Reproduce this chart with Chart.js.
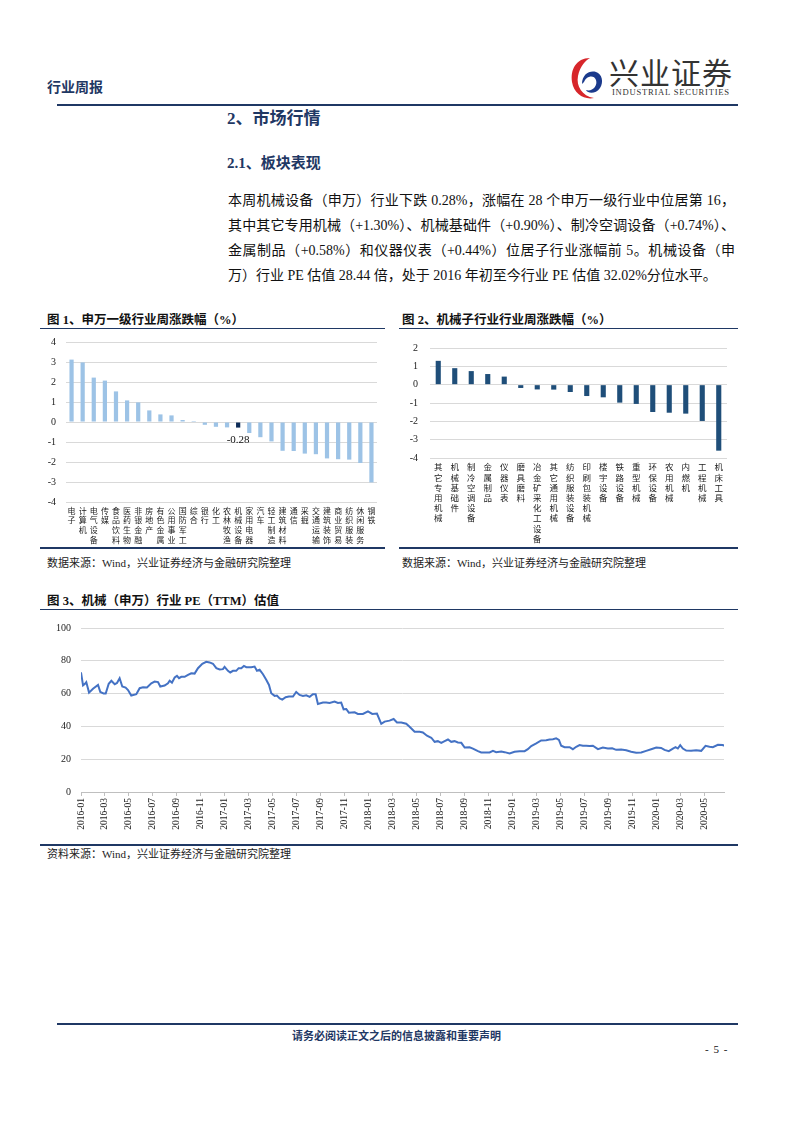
<!DOCTYPE html>
<html>
<head>
<meta charset="utf-8">
<script src="https://cdn.jsdelivr.net/npm/chart.js@4"></script>
<style>
  html,body{margin:0;padding:0;background:#fff;}
  body{width:793px;height:1122px;position:relative;overflow:hidden;font-family:"Liberation Serif","Noto Sans CJK SC",serif;}
  .abs{position:absolute;white-space:nowrap;}
  .navy{color:#1f3864;}
  .hline{position:absolute;background:#1f3864;}
  canvas{position:absolute;}
  .para{position:absolute;left:228px;width:507px;font-size:14px;color:#111;}
  .para div{height:25px;line-height:25px;text-align:justify;text-align-last:justify;white-space:nowrap;}
  .para div.last{text-align-last:left;}
</style>
</head>
<body>
<!-- header -->
<div class="abs navy" style="left:47px;top:76px;font-size:14px;font-weight:bold;font-family:'Noto Sans CJK SC';">行业周报</div>
<svg class="abs" style="left:568px;top:54px;" width="40" height="48" viewBox="0 0 40 48">
  <path d="M22 4 C8 4 2 16 4 28 C6 40 16 46 26 44 C14 42 8 32 10 22 C12 12 18 6 22 4 Z" fill="#d7262b"/>
  <path d="M14 30 C14 20 22 16 28 18 C34 20 36 28 32 34 C28 40 20 40 18 36 C24 38 30 32 28 26 C26 20 18 22 16 28 Z" fill="#1b3a8c"/>
</svg>
<div class="abs" style="left:609px;top:54px;font-size:30px;color:#333;letter-spacing:1px;font-family:'Noto Sans CJK SC';line-height:34px;">兴业证券</div>
<div class="abs" style="left:612px;top:87px;font-size:8.6px;color:#333;font-family:'Liberation Serif';letter-spacing:0.75px;">INDUSTRIAL SECURITIES</div>
<div class="hline" style="left:57px;top:104px;width:681px;height:1.5px;"></div>

<div class="abs navy" style="left:227px;top:104px;font-size:17px;font-weight:bold;">2、市场行情</div>
<div class="abs navy" style="left:227px;top:151px;font-size:15px;font-weight:bold;">2.1、板块表现</div>

<div class="para" style="top:188px;">
  <div>本周机械设备（申万）行业下跌 0.28%，涨幅在 28 个申万一级行业中位居第 16，</div>
  <div>其中其它专用机械（+1.30%）、机械基础件（+0.90%）、制冷空调设备（+0.74%）、</div>
  <div>金属制品（+0.58%）和仪器仪表（+0.44%）位居子行业涨幅前 5。机械设备（申</div>
  <div class="last">万）行业 PE 估值 28.44 倍，处于 2016 年初至今行业 PE 估值 32.02%分位水平。</div>
</div>

<!-- chart 1/2 titles -->
<div class="abs" style="left:47px;top:309px;font-size:12.5px;font-weight:bold;color:#111;">图 1、申万一级行业周涨跌幅（%）</div>
<div class="abs" style="left:402px;top:309px;font-size:12.5px;font-weight:bold;color:#111;">图 2、机械子行业行业周涨跌幅（%）</div>
<div class="hline" style="left:40px;top:328px;width:345px;height:1px;"></div>
<div class="hline" style="left:399px;top:328px;width:339px;height:1px;"></div>

<canvas id="c1" style="left:40px;top:326px;width:343px;height:222px;" width="343" height="222"></canvas>
<canvas id="c2" style="left:390px;top:330px;width:345px;height:218px;" width="345" height="218"></canvas>

<div class="hline" style="left:40px;top:547px;width:345px;height:2px;"></div>
<div class="hline" style="left:399px;top:547px;width:339px;height:2px;"></div>
<div class="abs" style="left:47px;top:554px;font-size:11px;color:#222;">数据来源：Wind，兴业证券经济与金融研究院整理</div>
<div class="abs" style="left:402px;top:554px;font-size:11px;color:#222;">数据来源：Wind，兴业证券经济与金融研究院整理</div>

<!-- chart 3 -->
<div class="abs" style="left:47px;top:590px;font-size:12.5px;font-weight:bold;color:#111;">图 3、机械（申万）行业 PE（TTM）估值</div>
<div class="hline" style="left:40px;top:609px;width:698px;height:1px;"></div>
<canvas id="c3" style="left:40px;top:612px;width:696px;height:232px;" width="696" height="232"></canvas>
<div class="hline" style="left:40px;top:844px;width:698px;height:2px;"></div>
<div class="abs" style="left:47px;top:845px;font-size:11px;color:#222;">资料来源：Wind，兴业证券经济与金融研究院整理</div>

<!-- footer -->
<div class="hline" style="left:57px;top:1023px;width:681px;height:1.5px;"></div>
<div class="abs" style="left:0;width:793px;text-align:center;top:1027px;font-size:11px;font-weight:bold;color:#1f3864;">请务必阅读正文之后的信息披露和重要声明</div>
<div class="abs" style="left:705px;top:1043px;font-size:11px;color:#111;letter-spacing:1px;">- 5 -</div>

<script>
// ---------- data ----------
const industryNames = ['电子','计算机','电气设备','传媒','食品饮料','医药生物','非银金融','房地产','有色金属','公用事业','国防军工','综合','银行','化工','农林牧渔','机械设备','家用电器','汽车','轻工制造','建筑材料','通信','采掘','交通运输','建筑装饰','商业贸易','纺织服装','休闲服务','钢铁'];
const industryChange = [3.12,2.98,2.22,2.07,1.53,1.08,0.98,0.58,0.38,0.33,0.10,0.05,-0.14,-0.24,-0.27,-0.28,-0.55,-0.76,-0.97,-1.44,-1.45,-1.58,-1.61,-1.82,-1.86,-1.88,-2.05,-3.02];
const highlightIndustry = '机械设备';

const subNames = ['其它专用机械','机械基础件','制冷空调设备','金属制品','仪器仪表','磨具磨料','冶金矿采化工设备','其它通用机械','纺织服装设备','印刷包装机械','楼宇设备','铁路设备','重型机械','环保设备','农用机械','内燃机','工程机械','机床工具'];
const subChange = [1.30,0.90,0.74,0.58,0.44,-0.18,-0.26,-0.27,-0.40,-0.62,-0.69,-0.98,-1.05,-1.49,-1.53,-1.58,-1.98,-3.60];

// months since 2016-01 (read from the x position of each point)
const peMonthOffsets = [0,0.17,0.33,0.44,0.67,1.0,1.42,1.61,1.89,2.06,2.31,2.53,2.81,3.0,3.22,3.44,3.72,3.92,4.19,4.61,4.89,5.17,5.5,5.86,6.14,6.42,6.61,6.97,7.25,7.39,7.58,7.81,8.0,8.17,8.36,8.64,8.92,9.19,9.47,9.75,10.11,10.44,10.72,11.0,11.28,11.56,11.83,11.97,12.25,12.44,12.67,12.94,13.14,13.36,13.58,13.78,14.19,14.47,14.67,14.89,15.17,15.44,15.67,15.86,16.14,16.33,16.56,16.78,17.06,17.33,17.67,17.94,18.22,18.5,18.78,19.06,19.33,19.56,19.75,20.17,20.44,20.72,21.14,21.42,21.69,21.89,22.11,22.33,22.81,23.08,23.5,23.92,24.28,24.67,25.03,25.31,25.72,26.06,26.34,26.7,27.11,27.39,27.81,28.23,28.5,28.84,29.2,29.48,29.75,30.03,30.31,30.59,30.86,31.14,31.42,31.7,31.98,32.39,32.67,33.09,33.36,33.78,34.06,34.34,34.61,35.03,35.31,35.73,36.14,36.56,36.98,37.25,37.53,37.95,38.36,38.78,39.06,39.34,39.61,39.84,40.03,40.31,40.73,41.0,41.28,41.56,41.84,42.11,42.39,42.67,43.09,43.5,43.92,44.28,44.61,45.03,45.45,45.86,46.28,46.7,47.11,47.53,47.95,48.36,48.64,49.0,49.34,49.56,49.75,49.95,50.17,50.45,50.86,51.28,51.7,52.06,52.39,52.67,53.09,53.5,53.6];
const peValues = [73,65,66,67,60.6,63,65.3,61,60,60,66,67.8,65.7,66.5,69.4,64.3,63.7,62.2,58.8,59.6,63.3,63.9,63.7,66.3,67.3,67,64.3,64.9,66.3,67.8,66.7,69.8,70.8,69.4,70.2,70.2,71.4,72.4,72.2,75.5,78.2,79.4,79,78.2,75.5,74.7,74.9,76.3,73.9,72.9,73.9,73.9,75.5,75.5,76.9,76.1,76.1,76.5,73.9,74.5,71.8,68.4,65.3,60.2,58.6,58.8,57.1,56.3,57.8,58.2,58.2,61,59.2,58.6,59,58,59.6,59.6,53.7,54.5,54.5,54.3,55.1,54.3,54.5,50.4,50.6,48.4,48.6,47.6,47.6,49.2,47.6,47.8,41.6,42.9,43.5,44.5,42.4,42.4,41.6,39.8,36.7,36.7,36.3,34.3,33.1,30.6,31,30,31,32,30.6,31,30.2,30,27.1,27.3,26.5,24.9,24.1,24.1,24.1,25.1,24.3,24.7,24.3,23.5,24.5,24.9,24.9,26.1,28,29.6,31.4,31.6,32,32.2,32.7,31.8,28.2,27.3,27.3,26.1,27.6,28.6,28.2,28.2,28,28.2,26.1,27.1,26.5,26.7,25.7,25.9,25.5,24.5,23.9,24.1,25.1,26.1,27.1,26.9,25.7,24.9,26.5,27.3,26.5,28.6,26.5,25.3,25.1,25.5,25.1,28.2,27.6,27.3,28.8,28.6,28.2];

const peYTicks = {min:0, max:100, step:20};
const peAxisEnd = 53.6; // months shown on the axis (2016-01 .. mid 2020-06)

// ---------- common ----------
const serif = "'Liberation Serif','Noto Sans CJK SC', serif";
Chart.defaults.font.family = serif;
Chart.defaults.color = '#222';
Chart.defaults.animation = false;
const gridColor = '#d9d9d9';
const stack = s => s.split('');

// label plugin for highlighted bar
const labelPlugin = {
  id: 'hlLabel',
  afterDatasetsDraw(chart) {
    const idx = industryNames.indexOf(highlightIndustry);
    const el = chart.getDatasetMeta(0).data[idx];
    if (!el) return;
    const ctx = chart.ctx;
    ctx.save();
    ctx.font = "11px " + serif;
    ctx.fillStyle = '#111';
    ctx.textAlign = 'center';
    ctx.textBaseline = 'middle';
    const v = industryChange[idx];
    ctx.fillText(v.toFixed(2), el.x, el.y + 13);
    ctx.restore();
  }
};

// ---------- chart 1 ----------
new Chart(document.getElementById('c1'), {
  type: 'bar',
  data: {
    labels: industryNames.map(stack),
    datasets: [{
      data: industryChange,
      backgroundColor: industryNames.map(n => n === highlightIndustry ? '#0c2b57' : '#9dc3e6'),
      barPercentage: 0.38,
      categoryPercentage: 1.0
    }]
  },
  options: {
    responsive: false,
    devicePixelRatio: 1,
    layout: {padding: {top: 0, right: 6, bottom: 0, left: 0}},
    plugins: {legend: {display: false}, tooltip: {enabled: false}},
    scales: {
      x: {
        grid: {display: false, drawTicks: false},
        border: {display: false},
        ticks: {autoSkip: false, maxRotation: 0, minRotation: 0, padding: 4,
                font: {size: 8, family: "'Noto Sans CJK SC'", lineHeight: 1.2}, color: '#222'},
        afterFit: s => { s.height = 46; }
      },
      y: {
        min: -4, max: 4,
        ticks: {stepSize: 1, padding: 10, font: {size: 10}},
        grid: {color: gridColor, drawTicks: false, lineWidth: 1},
        border: {display: false},
        afterFit: s => { s.width = 26; }
      }
    }
  },
  plugins: [labelPlugin]
});

// ---------- chart 2 ----------
new Chart(document.getElementById('c2'), {
  type: 'bar',
  data: {
    labels: subNames.map(stack),
    datasets: [{
      data: subChange,
      backgroundColor: '#1f4e79',
      barPercentage: 0.31,
      categoryPercentage: 1.0
    }]
  },
  options: {
    responsive: false,
    devicePixelRatio: 1,
    layout: {padding: {top: 0, right: 8, bottom: 0, left: 0}},
    plugins: {legend: {display: false}, tooltip: {enabled: false}},
    scales: {
      x: {
        grid: {display: false, drawTicks: false},
        border: {display: false},
        ticks: {autoSkip: false, maxRotation: 0, minRotation: 0, padding: 4,
                font: {size: 8.5, family: "'Noto Sans CJK SC'", lineHeight: 1.2}, color: '#222'},
        afterFit: s => { s.height = 90; }
      },
      y: {
        min: -4, max: 2,
        ticks: {stepSize: 1, padding: 12, font: {size: 10}},
        grid: {color: gridColor, drawTicks: false},
        border: {display: false},
        afterFit: s => { s.width = 40; }
      }
    }
  }
});

// ---------- chart 3 ----------
new Chart(document.getElementById('c3'), {
  type: 'line',
  data: {
    datasets: [{
      data: peMonthOffsets.map((m, i) => ({x: m, y: peValues[i]})),
      borderColor: '#4472c4',
      borderWidth: 2,
      pointRadius: 0,
      tension: 0,
      fill: false
    }]
  },
  options: {
    responsive: false,
    devicePixelRatio: 1,
    layout: {padding: {top: 0, right: 12, bottom: 0, left: 0}},
    plugins: {legend: {display: false}, tooltip: {enabled: false}},
    scales: {
      x: {
        type: 'linear',
        min: 0, max: peAxisEnd,
        grid: {display: true, drawOnChartArea: false, drawTicks: true, tickLength: 4, color: '#bfbfbf'},
        border: {display: true, color: '#bfbfbf'},
        ticks: {
          stepSize: 2, includeBounds: false, autoSkip: false,
          maxRotation: 90, minRotation: 90, padding: 2,
          font: {size: 9.5},
          callback: v => {
            const y = 2016 + Math.floor(v / 12);
            const m = (v % 12) + 1;
            return y + '-' + String(m).padStart(2, '0');
          }
        },
        afterFit: s => { s.height = 52; }
      },
      y: {
        min: peYTicks.min, max: peYTicks.max,
        ticks: {stepSize: peYTicks.step, padding: 10, font: {size: 10}},
        grid: {color: gridColor, drawTicks: false},
        border: {display: false},
        afterFit: s => { s.width = 41; }
      }
    }
  }
});
</script>
</body>
</html>
